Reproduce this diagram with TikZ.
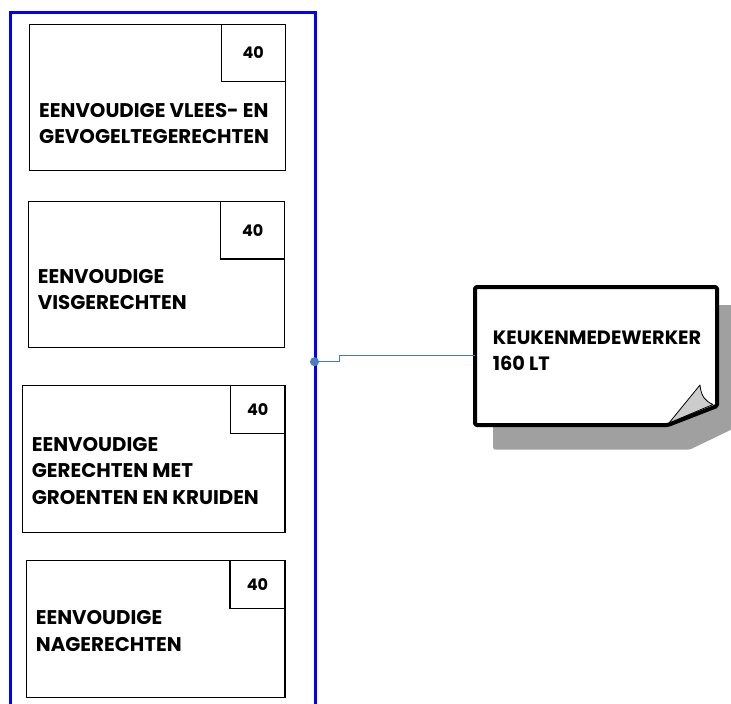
\documentclass[tikz,border=0pt]{standalone}
\usepackage{fontspec}
\setmainfont{Poppins}
\definecolor{shadowgray}{RGB}{160,160,160}
\definecolor{foldgray}{RGB}{204,204,204}
\definecolor{connblue}{RGB}{70,120,205}
\definecolor{dotblue}{RGB}{74,126,192}
\begin{document}
\begin{tikzpicture}[x=1pt,y=-1pt,
  box/.style={draw=black,line width=1.4pt,anchor=north west,inner sep=0pt},
  numbox/.style={draw=black,line width=1.4pt,anchor=north east,inner sep=0pt,font=\fontsize{16}{18}\selectfont\bfseries},
  lbl/.style={anchor=north west,inner sep=0pt,align=left,font=\fontsize{19.8}{26.5}\selectfont\bfseries},
  conn/.style={draw=connblue,line width=1.2pt}]
\useasboundingbox (0,0) rectangle (731,704);
\begin{scope}
\clip (0,0) rectangle (731,704);
% shadow
\fill[shadowgray,rounded corners=1.5pt] (493,305) -- (745,305) -- (745,423) -- (690,449.5) -- (493,449.5) -- cycle;
% frame
\draw[blue,line width=3pt] (10.5,12) rectangle (315,720);
\end{scope}
% boxes
\node[box,minimum width=256,minimum height=146] (b1) at (28.5,23.5) {};
\node[numbox,minimum width=64,minimum height=57.5] (n1) at (b1.north east) {40};
\node[lbl] (t1) at (39,103) {EENVOUDIGE VLEES- EN\\GEVOGELTEGERECHTEN};
\node[box,minimum width=256,minimum height=146] (b2) at (28,200.7) {};
\node[numbox,minimum width=64,minimum height=57.5] (n2) at (b2.north east) {40};
\node[lbl] (t2) at (37.7,268.8) {EENVOUDIGE\\VISGERECHTEN};
\node[box,minimum width=262.5,minimum height=146.5] (b3) at (21.7,385) {};
\node[numbox,minimum width=54.5,minimum height=48] (n3) at (b3.north east) {40};
\node[lbl] (t3) at (31.7,437) {EENVOUDIGE\\GERECHTEN MET\\GROENTEN EN KRUIDEN};
\node[box,minimum width=258.5,minimum height=137] (b4) at (25.7,560) {};
\node[numbox,minimum width=55,minimum height=48] (n4) at (b4.north east) {40};
\node[lbl] (t4) at (35.7,610.3) {EENVOUDIGE\\NAGERECHTEN};
% note
\draw[line width=4pt,fill=white,rounded corners=1.5pt,line join=round] (475,287) -- (717,287) -- (717,406) -- (668,425) -- (475,425) -- cycle;
\fill[foldgray,draw=black,line width=0.8pt,line join=round] (669,423) -- (700,385) .. controls (701,396) and (705,401) .. (713,404.5) -- cycle;
\node[lbl,font=\fontsize{19.3}{26}\selectfont\bfseries] (note) at (492.7,330.3) {KEUKENMEDEWERKER\\160 LT};
% connector
\coordinate (dot) at (314.5,361.7);
\coordinate (ne) at (475,355.7);
\draw[conn] (dot) -- (339.3,361.7) -- (339.3,355.7) -- (ne);
\fill[dotblue] (dot) circle (4.5);
\end{tikzpicture}
\end{document}
